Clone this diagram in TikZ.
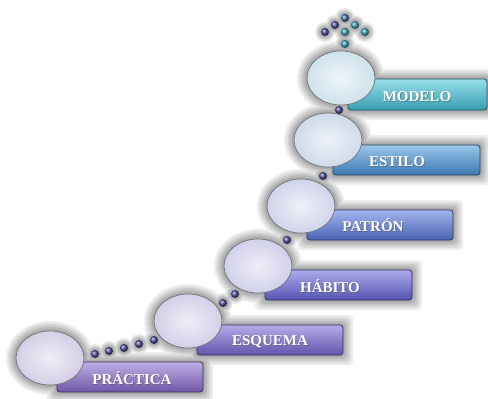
\documentclass[tikz,border=0pt]{standalone}
\usepackage{fontspec}
\setmainfont{Liberation Serif}
\usetikzlibrary{shapes.geometric}
\definecolor{cA}{HTML}{8A6CD0}
\definecolor{cB}{HTML}{7A68D6}
\definecolor{cC}{HTML}{6A68DC}
\definecolor{cD}{HTML}{5A7AE0}
\definecolor{cE}{HTML}{4A96DC}
\definecolor{cF}{HTML}{44C4DC}
\definecolor{elA}{HTML}{D4CEE6}
\definecolor{elB}{HTML}{D2D0E8}
\definecolor{elC}{HTML}{D0D0EA}
\definecolor{elD}{HTML}{D0D4EA}
\definecolor{elE}{HTML}{CFDAEA}
\definecolor{elF}{HTML}{CFE2EC}
\definecolor{dotp}{HTML}{4B4B9A}
\definecolor{dott}{HTML}{3AA2B8}
\definecolor{dotm}{HTML}{3F6FAA}
\tikzset{
  bar/.style={rectangle, rounded corners=3pt, draw=#1!45!black, line width=0.8pt,
    top color=#1!55!white, middle color=#1, bottom color=#1!80!black,
    inner sep=0pt, minimum height=30pt},
  oval/.style={ellipse, draw=black!55, line width=0.7pt, inner color=#1!35!white,
    outer color=#1, minimum width=68pt, minimum height=54pt, inner sep=0pt},
  ball/.style={circle, minimum size=8pt, inner sep=0pt, ball color=#1},
  lbl/.style={text=white, font=\bfseries\fontsize{15}{15}\selectfont, inner sep=0pt},
  lblsh/.style={text=black!70, opacity=0.45, font=\bfseries\fontsize{15}{15}\selectfont, inner sep=0pt}
}
\begin{document}
\begin{tikzpicture}[x=1pt,y=-1pt]
\useasboundingbox (0,0) rectangle (488,399);
% glow
\foreach \e/\c in {10/black!7,8/black!13,6/black!20,4/black!27,2/black!33}{
  \fill[\c, rounded corners=4pt] (57-\e,362-\e) rectangle (203+\e,392+\e);
  \fill[\c, rounded corners=4pt] (197-\e,325-\e) rectangle (343+\e,355+\e);
  \fill[\c, rounded corners=4pt] (265-\e,270-\e) rectangle (412+\e,300+\e);
  \fill[\c, rounded corners=4pt] (307-\e,210-\e) rectangle (453+\e,240+\e);
  \fill[\c, rounded corners=4pt] (333-\e,145-\e) rectangle (480+\e,175+\e);
  \fill[\c, rounded corners=4pt] (348-\e,79-\e) rectangle (487+\e,110+\e);
  \fill[\c] (50,358) ellipse [x radius=34+\e, y radius=27+\e];
  \fill[\c] (188,321) ellipse [x radius=34+\e, y radius=27+\e];
  \fill[\c] (258,266) ellipse [x radius=34+\e, y radius=27+\e];
  \fill[\c] (301,206) ellipse [x radius=34+\e, y radius=27+\e];
  \fill[\c] (328,140) ellipse [x radius=34+\e, y radius=27+\e];
  \fill[\c] (341,78) ellipse [x radius=34+\e, y radius=27+\e];
  \foreach \px/\py in {95/354,109/351,124/348,139/344,154/340,223/303,235/294,287/240,323/176,339/110,
     345/18,335/25,355/25,325/32,345/32,365/32,345/44}{
    \fill[\c] (\px,\py) circle [radius=4+0.6*\e];
  }
}
% bars
\node[bar=cA, minimum width=146pt] (b1) at (130,377) {};
\node[bar=cB, minimum width=146pt] (b2) at (270,340) {};
\node[bar=cC, minimum width=147pt] (b3) at (338.5,285) {};
\node[bar=cD, minimum width=146pt] (b4) at (380,225) {};
\node[bar=cE, minimum width=147pt] (b5) at (406.5,160) {};
\node[bar=cF, minimum width=139pt, minimum height=31pt] (b6) at (417.5,94.5) {};
% labels
\foreach \x/\y/\t/\n in {132/378/PRÁCTICA/t1,270/342/ESQUEMA/t2,330/286/HÁBITO/t3,373/225/PATRÓN/t4,397/162/ESTILO/t5,417/97/MODELO/t6}{
  \node[lblsh] at (\x+0.8,\y+0.8) {\t};
  \node[lbl] (\n) at (\x,\y) {\t};
}
% ovals
\node[oval=elA] (e1) at (50,358) {};
\node[oval=elB] (e2) at (188,321) {};
\node[oval=elC] (e3) at (258,266) {};
\node[oval=elD] (e4) at (301,206) {};
\node[oval=elE] (e5) at (328,140) {};
\node[oval=elF] (e6) at (341,78) {};
% dots
\node[ball=dotp] (d1) at (95,354) {};
\node[ball=dotp] (d2) at (109,351) {};
\node[ball=dotp] (d3) at (124,348) {};
\node[ball=dotp] (d4) at (139,344) {};
\node[ball=dotp] (d5) at (154,340) {};
\node[ball=dotp] (d6) at (223,303) {};
\node[ball=dotp] (d7) at (235,294) {};
\node[ball=dotp] (d8) at (287,240) {};
\node[ball=dotp] (d9) at (323,176) {};
\node[ball=dotp] (d10) at (339,110) {};
\node[ball=dotm] (u1) at (345,18) {};
\node[ball=dotp] (u2) at (335,25) {};
\node[ball=dott] (u3) at (355,25) {};
\node[ball=dotp] (u4) at (325,32) {};
\node[ball=dott] (u5) at (345,32) {};
\node[ball=dott] (u6) at (365,32) {};
\node[ball=dott] (u7) at (345,44) {};
\end{tikzpicture}
\end{document}
